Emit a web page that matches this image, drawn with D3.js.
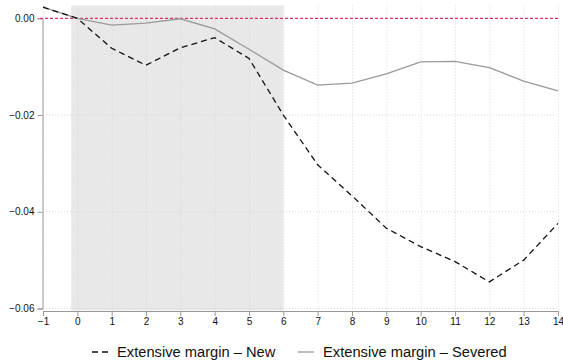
<!DOCTYPE html>
<html>
<head>
<meta charset="utf-8">
<script src="https://cdn.jsdelivr.net/npm/d3@7"></script>
<style>
  html, body { margin: 0; padding: 0; background: #fff; }
  svg { display: block; font-family: "Liberation Sans", Arial, Helvetica, sans-serif; }
</style>
</head>
<body>
<svg id="chart" width="563" height="364"></svg>
<script>
// Event time (periods relative to event)
const periods = [-1, 0, 1, 2, 3, 4, 5, 6, 7, 8, 9, 10, 11, 12, 13, 14];
// Extensive margin – New
const newMargin = [0.0023, 0, -0.0062, -0.0097, -0.0061, -0.0040, -0.0083, -0.0200, -0.0303, -0.0367, -0.0434, -0.0472, -0.0503, -0.0545, -0.0500, -0.0424];
// Extensive margin – Severed
const severedMargin = [0.0023, 0, -0.0014, -0.0010, -0.0001, -0.0022, -0.0064, -0.0107, -0.0138, -0.0134, -0.0115, -0.0090, -0.0089, -0.0102, -0.0130, -0.0150];
const xTicks = [-1, 0, 1, 2, 3, 4, 5, 6, 7, 8, 9, 10, 11, 12, 13, 14];
const yTicks = [0, -0.02, -0.04, -0.06];
const shadeSpan = [-0.18, 6];
const legendLabels = ["Extensive margin \u2013 New", "Extensive margin \u2013 Severed"];

const svg = d3.select("#chart");
const x = d3.scaleLinear().domain([-1, 14]).range([43, 558]);
const y = d3.scaleLinear().domain([-0.06, 0]).range([308.5, 18.3]);
const plotTop = 5.5, plotBottom = 310.5;

// shaded window
svg.append("rect")
  .attr("x", x(shadeSpan[0])).attr("y", plotTop)
  .attr("width", x(shadeSpan[1]) - x(shadeSpan[0]))
  .attr("height", plotBottom - plotTop)
  .attr("fill", "#e8e8e8");

// dotted grid
const grid = svg.append("g").attr("stroke", "#cfcfcf").attr("stroke-width", 0.8).attr("stroke-dasharray", "1,2");
grid.selectAll("line.v").data(xTicks).join("line")
  .attr("x1", d => x(d) + 0.5).attr("x2", d => x(d) + 0.5)
  .attr("y1", plotTop).attr("y2", plotBottom);
grid.selectAll("line.h").data(yTicks.filter(d => d !== 0)).join("line")
  .attr("x1", x(-1)).attr("x2", x(14))
  .attr("y1", d => y(d)).attr("y2", d => y(d));

// y axis
const yAxis = d3.axisLeft(y).tickValues(yTicks).tickFormat(d3.format(".2f")).tickSize(5).tickPadding(3);
const gy = svg.append("g").attr("transform", "translate(42.5,0)").call(yAxis);
gy.select(".domain").attr("stroke", "#999");
gy.selectAll(".tick line").attr("stroke", "#999");
gy.selectAll(".tick text").attr("font-size", 10).attr("fill", "#111");

// x axis
const xAxis = d3.axisBottom(x).tickValues(xTicks).tickFormat(d => d < 0 ? "\u2212" + Math.abs(d) : d).tickSize(5).tickPadding(2);
const gx = svg.append("g").attr("transform", "translate(0,311)").call(xAxis);
gx.select(".domain").attr("stroke", "#999");
gx.selectAll(".tick line").attr("stroke", "#999");
gx.selectAll(".tick text").attr("font-size", 10).attr("fill", "#111");

// zero reference line
svg.append("line")
  .attr("x1", 40).attr("x2", 560)
  .attr("y1", y(0)).attr("y2", y(0))
  .attr("stroke", "#e0306a").attr("stroke-width", 1.3).attr("stroke-dasharray", "3,2");

const line = d3.line().x((d, i) => x(periods[i])).y(d => y(d));

svg.append("path").datum(severedMargin)
  .attr("d", line).attr("fill", "none")
  .attr("stroke", "#9a9a9a").attr("stroke-width", 1.3);

svg.append("path").datum(newMargin)
  .attr("d", line).attr("fill", "none")
  .attr("stroke", "#111").attr("stroke-width", 1.3).attr("stroke-dasharray", "6,4");

// legend
const lg = svg.append("g").attr("font-size", 14.7).attr("fill", "#111");
lg.append("line").attr("x1", 92).attr("x2", 108).attr("y1", 352).attr("y2", 352)
  .attr("stroke", "#111").attr("stroke-width", 1.3).attr("stroke-dasharray", "6,4");
lg.append("text").attr("x", 117).attr("y", 357).text(legendLabels[0]);
lg.append("line").attr("x1", 298).attr("x2", 314).attr("y1", 352).attr("y2", 352)
  .attr("stroke", "#9a9a9a").attr("stroke-width", 1.3);
lg.append("text").attr("x", 323).attr("y", 357).text(legendLabels[1]);
</script>
</body>
</html>
